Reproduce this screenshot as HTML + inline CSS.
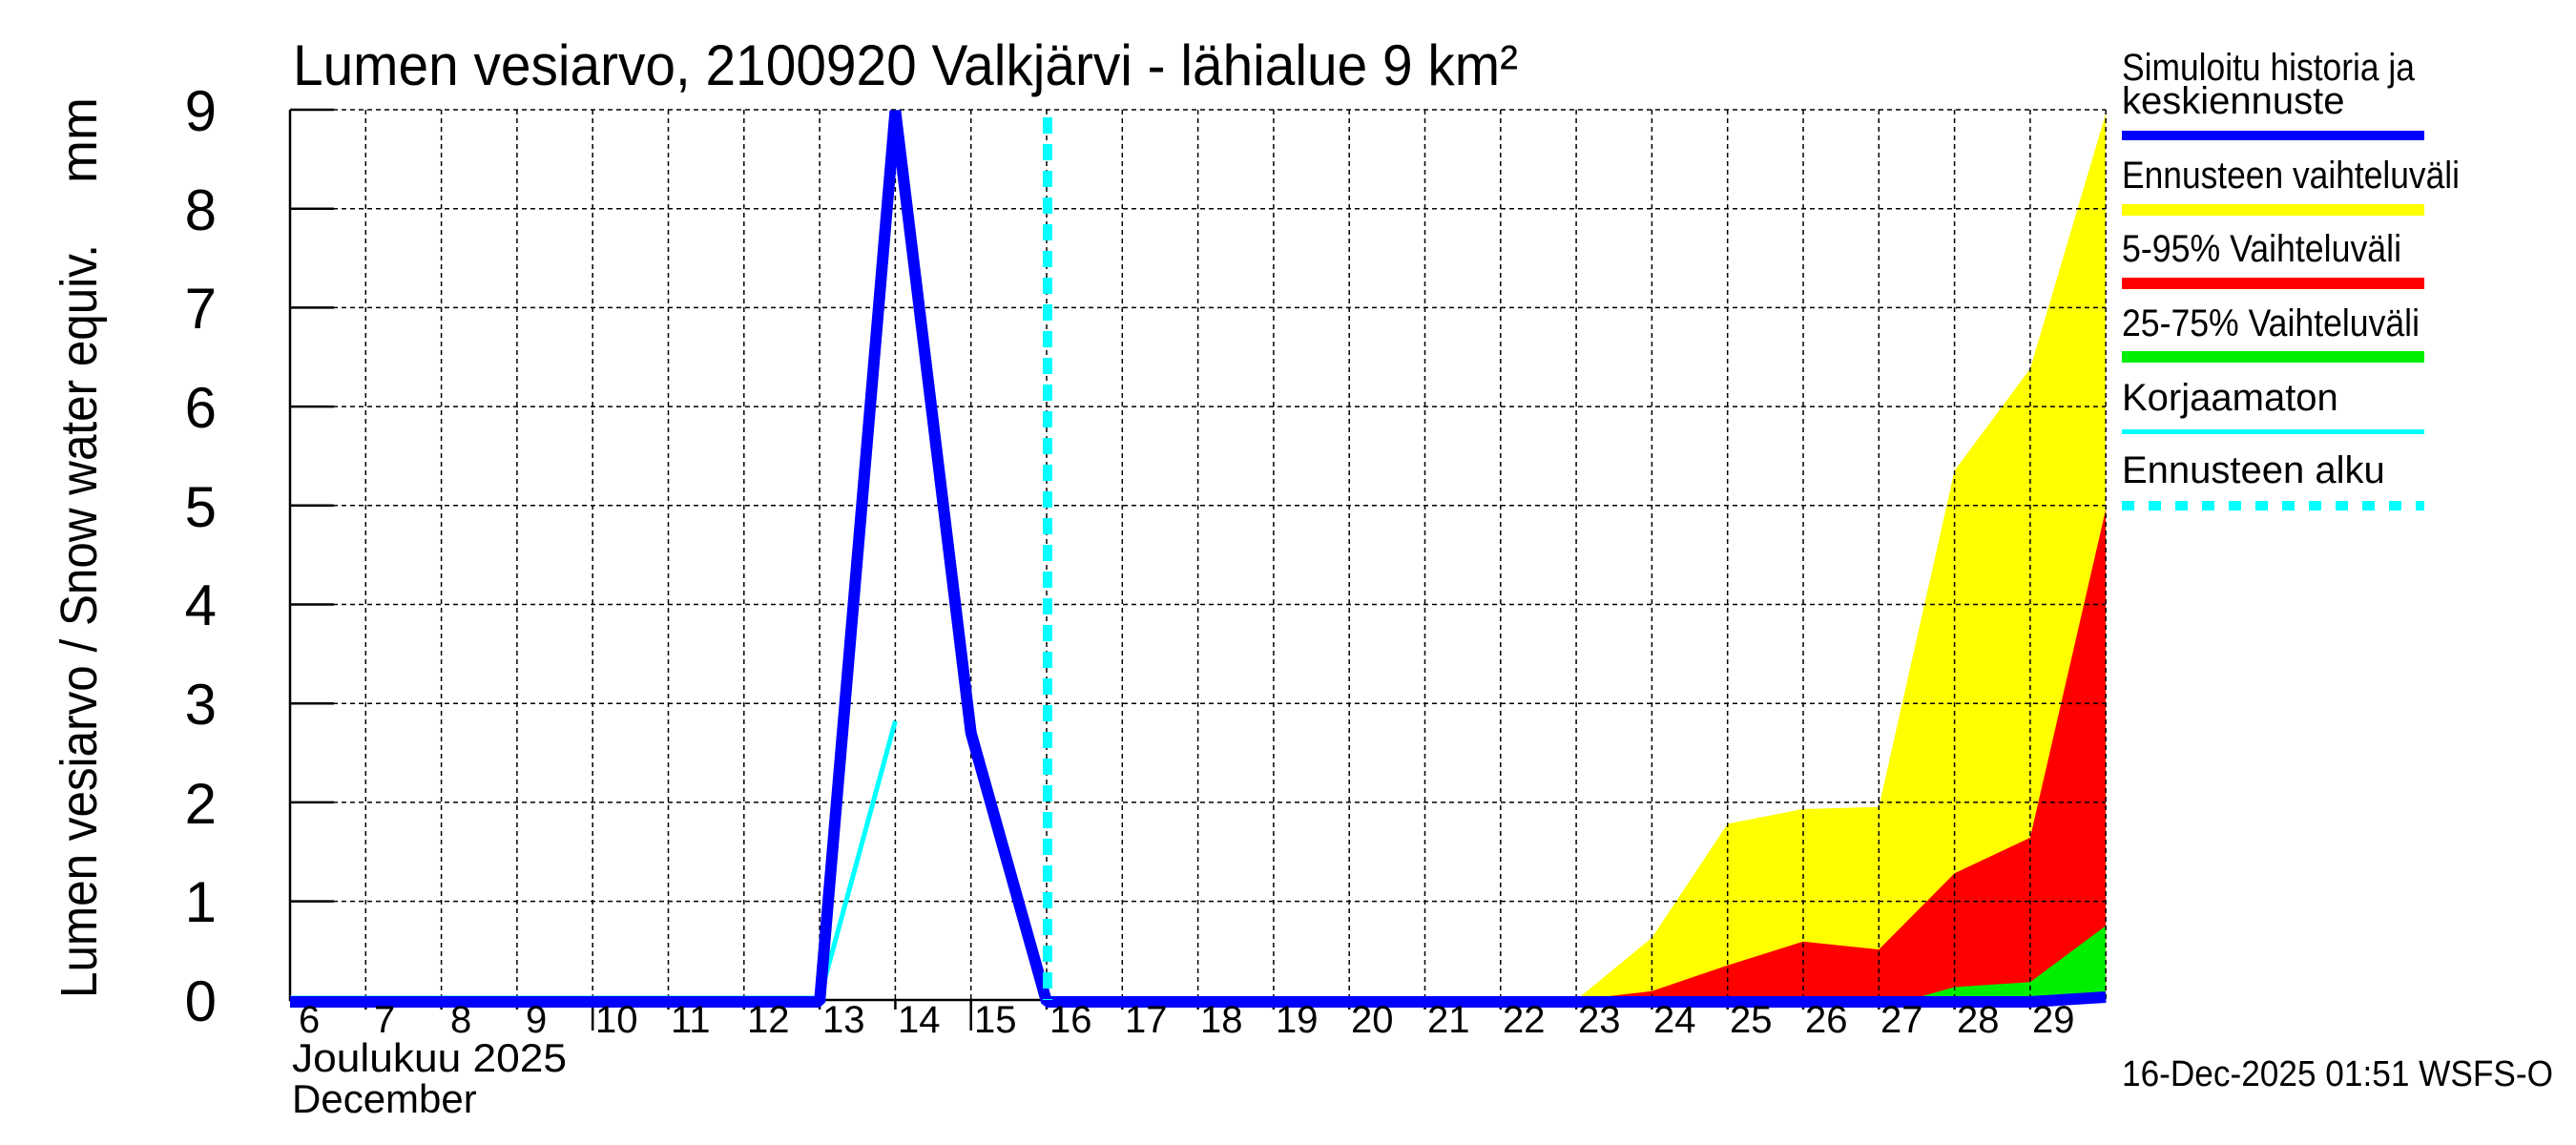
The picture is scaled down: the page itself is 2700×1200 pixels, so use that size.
<!DOCTYPE html>
<html><head><meta charset="utf-8"><style>html,body{margin:0;padding:0;background:#fff}svg{display:block}</style></head>
<body>
<svg width="2700" height="1200" viewBox="0 0 2700 1200" xmlns="http://www.w3.org/2000/svg" font-family="Liberation Sans, Arial, sans-serif">
<rect width="2700" height="1200" fill="#fff"/>
<polygon points="1652.1,1048 1731.4,982.7 1810.7,863.4 1890,847.9 1969.3,845.8 2048.6,493.2 2127.9,386.4 2207.2,118.8 2207.2,1048" fill="#ffff00"/>
<polygon points="1652.1,1048 1731.4,1038.7 1810.7,1011.7 1890,986.8 1969.3,995.1 2048.6,915.3 2127.9,877.9 2207.2,533.6 2207.2,1048" fill="#ff0000"/>
<polygon points="2000,1048 2048.6,1034.5 2127.9,1029.3 2207.2,970.2 2207.2,1048" fill="#00ee00"/>
<g stroke="#000" stroke-width="1.5" stroke-dasharray="5,4" fill="none">
<path d="M304,115H2207M304,218.7H2207M304,322.4H2207M304,426.1H2207M304,529.8H2207M304,633.5H2207M304,737.2H2207M304,840.9H2207M304,944.6H2207"/>
<path d="M383.3,115V1048M462.6,115V1048M541.9,115V1048M621.2,115V1048M700.5,115V1048M779.8,115V1048M859.1,115V1048M938.4,115V1048M1017.7,115V1048M1097,115V1048M1176.3,115V1048M1255.6,115V1048M1334.9,115V1048M1414.2,115V1048M1493.5,115V1048M1572.8,115V1048M1652.1,115V1048M1731.4,115V1048M1810.7,115V1048M1890,115V1048M1969.3,115V1048M2048.6,115V1048M2127.9,115V1048M2207.2,115V1048"/>
</g>
<g stroke="#000" stroke-width="2.5" fill="none">
<path d="M304,115V1048H2207"/>
<path d="M304,115h46M304,218.7h46M304,322.4h46M304,426.1h46M304,529.8h46M304,633.5h46M304,737.2h46M304,840.9h46M304,944.6h46"/>
<path d="M621.2,1048v32M1017.7,1048v32"/>
<path d="M383.3,1048v10M462.6,1048v10M541.9,1048v10M700.5,1048v10M779.8,1048v10M859.1,1048v10M938.4,1048v10M1097,1048v10M1176.3,1048v10M1255.6,1048v10M1334.9,1048v10M1414.2,1048v10M1493.5,1048v10M1572.8,1048v10M1652.1,1048v10M1731.4,1048v10M1810.7,1048v10M1890,1048v10M1969.3,1048v10M2048.6,1048v10M2127.9,1048v10"/>
</g>
<polyline points="304,1046 859.1,1046 938.4,755.6" fill="none" stroke="#00ffff" stroke-width="5"/>
<polyline points="304,1050 859.1,1050 938.4,116 1017.7,768 1097,1050 2127.9,1050 2207.2,1045" fill="none" stroke="#0000ff" stroke-width="12" stroke-linejoin="bevel"/>
<line x1="1098" y1="123" x2="1098" y2="1048" stroke="#00ffff" stroke-width="10" stroke-dasharray="17,11"/>
<g font-size="60" text-anchor="end" fill="#000">
<text x="227" y="1070">0</text><text x="227" y="966">1</text><text x="227" y="863">2</text><text x="227" y="759">3</text><text x="227" y="655">4</text><text x="227" y="552">5</text><text x="227" y="448">6</text><text x="227" y="344">7</text><text x="227" y="241">8</text><text x="227" y="137">9</text>
</g>
<text transform="translate(101,1046) rotate(-90)" font-size="54" textLength="790" lengthAdjust="spacingAndGlyphs">Lumen vesiarvo / Snow water equiv.</text>
<text transform="translate(101,192) rotate(-90)" font-size="54">mm</text>
<g font-size="40" fill="#000">
<text x="313" y="1082">6</text><text x="392" y="1082">7</text><text x="472" y="1082">8</text><text x="551" y="1082">9</text><text x="624" y="1082">10</text><text x="703" y="1082">11</text><text x="783" y="1082">12</text><text x="862" y="1082">13</text><text x="941" y="1082">14</text><text x="1021" y="1082">15</text><text x="1100" y="1082">16</text><text x="1179" y="1082">17</text><text x="1258" y="1082">18</text><text x="1337" y="1082">19</text><text x="1416" y="1082">20</text><text x="1496" y="1082">21</text><text x="1575" y="1082">22</text><text x="1654" y="1082">23</text><text x="1733" y="1082">24</text><text x="1813" y="1082">25</text><text x="1892" y="1082">26</text><text x="1971" y="1082">27</text><text x="2051" y="1082">28</text><text x="2130" y="1082">29</text>
</g>
<text x="306" y="1123" font-size="42" textLength="288" lengthAdjust="spacingAndGlyphs">Joulukuu  2025</text>
<text x="306" y="1166" font-size="42">December</text>
<text x="307" y="89" font-size="60" textLength="1284" lengthAdjust="spacingAndGlyphs">Lumen vesiarvo, 2100920 Valkjärvi - lähialue 9 km²</text>
<g font-size="40" fill="#000">
<text x="2224" y="84" textLength="307" lengthAdjust="spacingAndGlyphs">Simuloitu historia ja</text>
<text x="2224" y="119">keskiennuste</text>
<text x="2224" y="197" textLength="354" lengthAdjust="spacingAndGlyphs">Ennusteen vaihteluväli</text>
<text x="2224" y="274" textLength="293" lengthAdjust="spacingAndGlyphs">5-95% Vaihteluväli</text>
<text x="2224" y="352" textLength="312" lengthAdjust="spacingAndGlyphs">25-75% Vaihteluväli</text>
<text x="2224" y="430">Korjaamaton</text>
<text x="2224" y="506">Ennusteen alku</text>
</g>
<rect x="2224" y="137" width="317" height="10" fill="#0000ff"/>
<rect x="2224" y="214" width="317" height="12" fill="#ffff00"/>
<rect x="2224" y="291" width="317" height="12" fill="#ff0000"/>
<rect x="2224" y="368" width="317" height="12" fill="#00ee00"/>
<rect x="2224" y="450" width="317" height="5" fill="#00ffff"/>
<line x1="2224" y1="530" x2="2541" y2="530" stroke="#00ffff" stroke-width="10" stroke-dasharray="13,15"/>
<text x="2224" y="1138" font-size="38" textLength="452" lengthAdjust="spacingAndGlyphs">16-Dec-2025 01:51 WSFS-O</text>
</svg>
</body></html>
